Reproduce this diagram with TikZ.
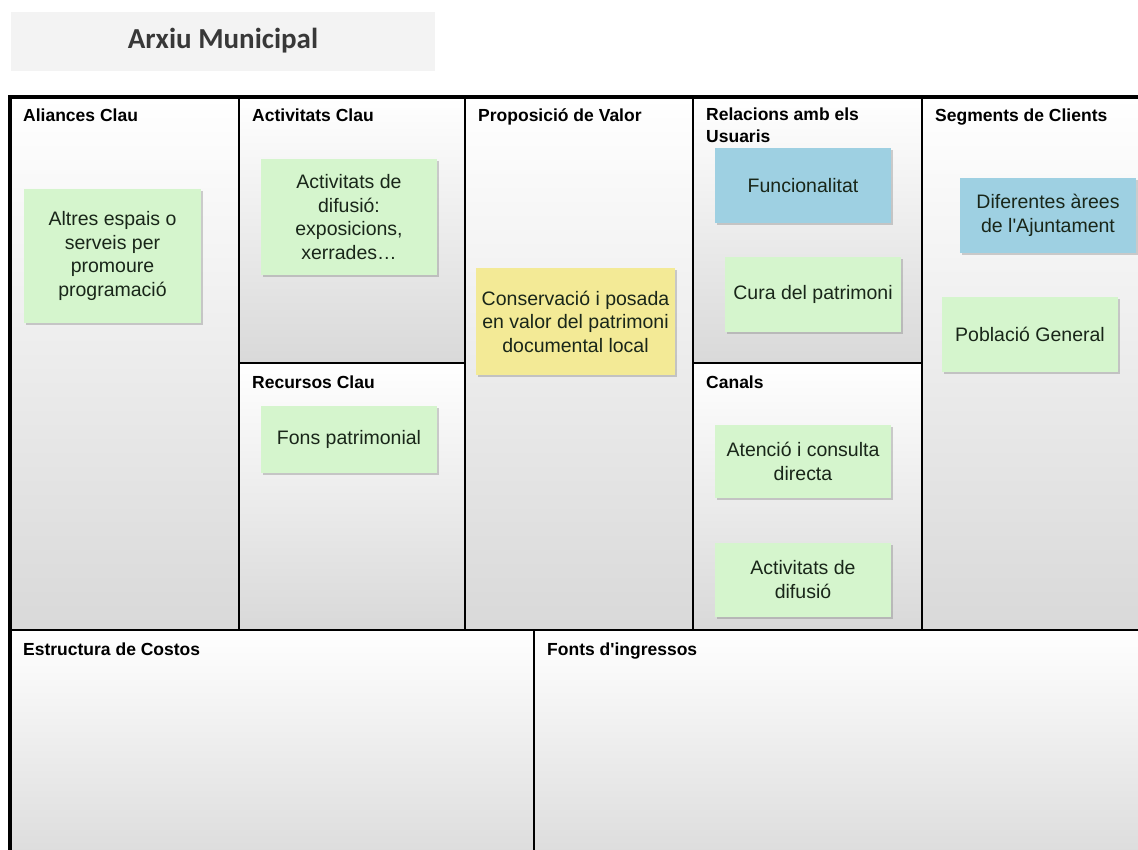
\documentclass[tikz,border=0pt]{standalone}
\usepackage{fontspec}
\setmainfont{Liberation Sans}
\newfontfamily\titlefont{Carlito}
\usetikzlibrary{shadows}

\definecolor{notegreen}{RGB}{213,245,205}
\definecolor{noteblue}{RGB}{158,208,226}
\definecolor{noteyellow}{RGB}{243,234,150}
\definecolor{titlegray}{RGB}{243,243,243}
\definecolor{notetext}{RGB}{25,38,25}

\begin{document}
\begin{tikzpicture}
  [
    x=1pt, y=-1pt,
    cell/.style={draw=black, line width=1.6pt, top color=white, middle color=black!2, bottom color=black!15},
    head/.style={anchor=base west, inner sep=0pt, align=left, font=\fontsize{17.5}{22}\selectfont\bfseries},
    note/.style={align=center, inner sep=2pt, text=notetext, font=\fontsize{19.5}{23.5}\selectfont,
      minimum width=176, minimum height=75,
      drop shadow={shadow xshift=1.5pt, shadow yshift=-2pt, opacity=.3, fill=black!60}}
  ]
  \useasboundingbox (0,0) rectangle (1138,849);
  \clip (0,0) rectangle (1138,849);

  % title
  \node[fill=titlegray, minimum width=424, minimum height=59, inner sep=0pt,
    text=black!78, font=\fontsize{29}{30}\selectfont\titlefont\bfseries] (titol) at (223,41) {Arxiu Municipal};

  % canvas
  \foreach \xa/\ya/\xb/\yb in {10/97/239/630, 239/97/465/363, 239/363/465/630, 465/97/693/630,
    693/97/922/363, 693/363/922/630, 922/97/1170/630, 10/630/534/880, 534/630/1170/880}
    \draw[cell] (\xa,\ya) rectangle (\xb,\yb);
  \draw[line width=3.2pt] (1170,97) -- (10,97) -- (10,880);

  \node[head] (aliances) at (23,121) {Aliances Clau};
  \node[head] (activitats) at (252,121) {Activitats Clau};
  \node[head] (recursos) at (252,388) {Recursos Clau};
  \node[head] (proposicio) at (478,121) {Proposició de Valor};
  \node[head] (relacions) at (706,142.5) {Relacions amb els\\Usuaris};
  \node[head] (canals) at (706,388) {Canals};
  \node[head] (segments) at (935,121) {Segments de Clients};
  \node[head] (costos) at (23,655) {Estructura de Costos};
  \node[head] (ingressos) at (547,655) {Fonts d\textquotesingle ingressos};

  % notes
  \node[note, fill=notegreen, minimum width=177, minimum height=134] (altres) at (112.5,256)
    {Altres espais o\\serveis per\\promoure\\programació};
  \node[note, fill=notegreen, minimum height=116] (difusio) at (349,217)
    {Activitats de\\difusió:\\exposicions,\\xerrades…};
  \node[note, fill=notegreen, minimum height=67] (fons) at (349,439.5) {Fons patrimonial};
  \node[note, fill=noteyellow, minimum width=199, minimum height=107] (conservacio) at (575.5,321.5)
    {Conservació i posada\\en valor del patrimoni\\documental local};
  \node[note, fill=noteblue] (funcionalitat) at (803,185.5) {Funcionalitat};
  \node[note, fill=notegreen] (cura) at (813,294.5) {Cura del patrimoni};
  \node[note, fill=notegreen, minimum height=73] (atencio) at (803,461.5) {Atenció i consulta\\directa};
  \node[note, fill=notegreen, minimum height=74] (difusio2) at (803,579.5) {Activitats de\\difusió};
  \node[note, fill=noteblue] (arees) at (1048,215.5) {Diferentes àrees\\de l\textquotesingle Ajuntament};
  \node[note, fill=notegreen] (poblacio) at (1030,334) {Població General};
\end{tikzpicture}
\end{document}
